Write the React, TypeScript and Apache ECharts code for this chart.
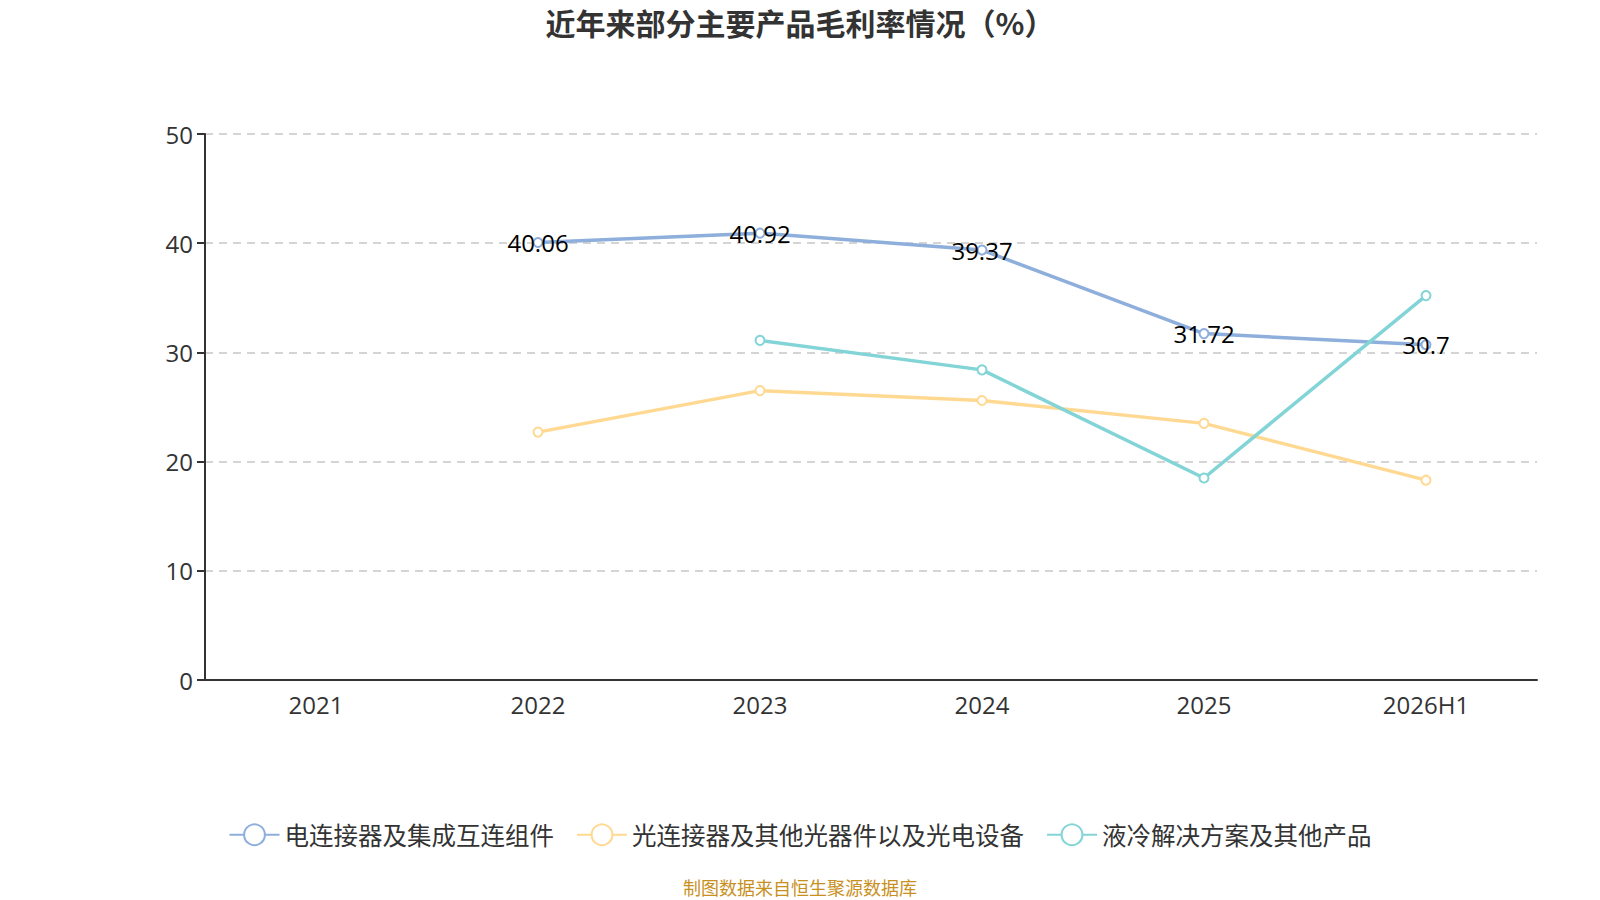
import React, { useEffect, useRef } from "react";
import * as echarts from "echarts";

const categories = ["2021", "2022", "2023", "2024", "2025", "2026H1"];
const seriesNames = ["电连接器及集成互连组件", "光连接器及其他光器件以及光电设备", "液冷解决方案及其他产品"];
const electric = [null, 40.06, 40.92, 39.37, 31.72, 30.7];
const optical = [null, 22.7, 26.5, 25.6, 23.5, 18.3];
const cooling = [null, null, 31.1, 28.4, 18.5, 35.2];
const colors = ["#8eaedc", "#ffd991", "#82d4d6"];

const FONT = "'Open Sans', 'Noto Sans CJK SC', sans-serif";
const CJK = "'Noto Sans CJK SC', sans-serif";

export default function App() {
	const chartRef = useRef<HTMLDivElement>(null);

	useEffect(() => {
		if (!chartRef.current) return;
		const chart = echarts.init(chartRef.current, undefined, { renderer: "svg" });

		const makeSeries = (name: string, data: (number | null)[], color: string, showLabel: boolean) => ({
			name,
			type: "line",
			data,
			symbol: "emptyCircle",
			symbolSize: 9,
			showSymbol: true,
			connectNulls: false,
			lineStyle: { color, width: 3.5 },
			itemStyle: { color, borderWidth: 2 },
			label: {
				show: showLabel,
				position: "inside",
				color: "#000",
				fontSize: 24,
				fontFamily: FONT,
			},
		});

		chart.setOption({
			animation: false,
			textStyle: { fontFamily: FONT },
			title: {
				text: "近年来部分主要产品毛利率情况（%）",
				left: "center",
				top: 2,
				textStyle: { fontSize: 30, fontWeight: "bold", color: "#333", fontFamily: CJK },
			},
			grid: { left: 205, right: 63, top: 134, bottom: 220 },
			legend: {
				bottom: 48,
				left: "center",
				itemWidth: 50,
				itemHeight: 26,
				itemGap: 22,
				textStyle: { fontSize: 24.5, color: "#333", fontFamily: CJK },
				data: seriesNames,
			},
			graphic: [
				{
					type: "text",
					left: "center",
					bottom: 4,
					style: { text: "制图数据来自恒生聚源数据库", fill: "#c8901e", fontSize: 18, fontFamily: CJK },
				},
			],
			xAxis: {
				type: "category",
				data: categories,
				boundaryGap: true,
				axisLine: { lineStyle: { color: "#333", width: 2 } },
				axisTick: { length: 8, lineStyle: { color: "#333", width: 2 } },
				axisLabel: { fontSize: 24, color: "#333", margin: 12, fontFamily: FONT },
			},
			yAxis: {
				type: "value",
				min: 0,
				max: 50,
				interval: 10,
				axisLine: { show: true, lineStyle: { color: "#333", width: 2 } },
				axisTick: { show: true, length: 8, lineStyle: { color: "#333", width: 2 } },
				axisLabel: { fontSize: 24, color: "#333", margin: 12, fontFamily: FONT },
				splitLine: { lineStyle: { color: "#c8c8c8", type: [8, 6], width: 1.5 } },
			},
			series: [
				makeSeries(seriesNames[0], electric, colors[0], true),
				makeSeries(seriesNames[1], optical, colors[1], false),
				makeSeries(seriesNames[2], cooling, colors[2], false),
			],
		});

		const onResize = () => chart.resize();
		window.addEventListener("resize", onResize);
		return () => {
			window.removeEventListener("resize", onResize);
			chart.dispose();
		};
	}, []);

	return (
		<div
			ref={chartRef}
			style={{ position: "fixed", left: 0, top: 0, width: 1600, height: 900, background: "#fff" }}
		/>
	);
}
